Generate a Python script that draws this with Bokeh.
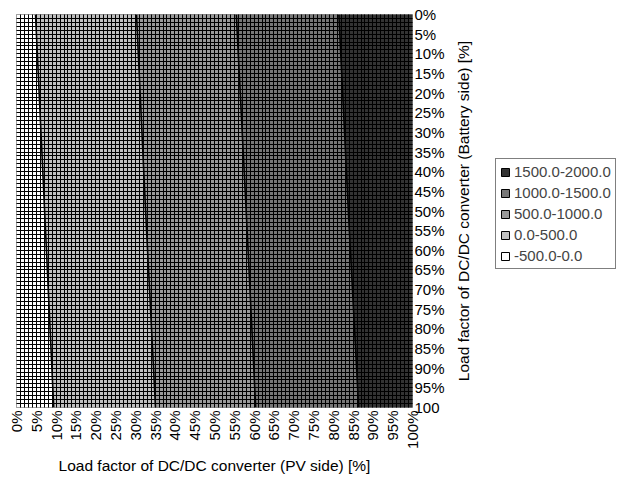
import math
from bokeh.plotting import figure
from bokeh.layouts import row
from bokeh.models import Range1d, FixedTicker, SingleIntervalTicker, Legend, LegendItem, Label
from bokeh.embed import file_html
from bokeh.resources import INLINE

# ---- data (percent units) ----
# Battery-side load factor positions at which the band boundaries were read
boundary_y = [0, 50, 100]
# PV-side load factor of each contour boundary at those positions
boundary_0 = [4.8, 7.1, 9.4]        # between -500..0 and 0..500
boundary_500 = [30.3, 32.6, 35.1]   # between 0..500 and 500..1000
boundary_1000 = [55.5, 58.0, 60.4]  # between 500..1000 and 1000..1500
boundary_1500 = [81.4, 83.8, 86.4]  # between 1000..1500 and 1500..2000

band_labels = ["-500.0-0.0", "0.0-500.0", "500.0-1000.0", "1000.0-1500.0", "1500.0-2000.0"]
band_colors = ["#ffffff", "#c0c0c0", "#999999", "#777777", "#333333"]

x_tick_values = [0, 5, 10, 15, 20, 25, 30, 35, 40, 45, 50, 55, 60, 65, 70, 75, 80, 85, 90, 95, 100]
x_tick_labels = ["0%", "5%", "10%", "15%", "20%", "25%", "30%", "35%", "40%", "45%", "50%",
                 "55%", "60%", "65%", "70%", "75%", "80%", "85%", "90%", "95%", "100%"]
y_tick_values = [0, 5, 10, 15, 20, 25, 30, 35, 40, 45, 50, 55, 60, 65, 70, 75, 80, 85, 90, 95, 100]
y_tick_labels = ["0%", "5%", "10%", "15%", "20%", "25%", "30%", "35%", "40%", "45%", "50%",
                 "55%", "60%", "65%", "70%", "75%", "80%", "85%", "90%", "95%", "100"]
grid_step = 1

x_title = "Load factor of DC/DC converter (PV side) [%]"
y_title = "Load factor of DC/DC converter (Battery side) [%]"

FONT = "Liberation Sans"
H = 477
W1 = 455
W2 = 617 - W1

p = figure(width=W1, height=H,
           x_range=Range1d(0, 100), y_range=Range1d(100, 0),
           y_axis_location="right",
           output_backend="svg", toolbar_location=None,
           min_border_left=16, min_border_top=14, min_border_right=43, min_border_bottom=70)

# ---- contour bands ----
x_min = [0, 0, 0]
x_max = [100, 100, 100]
edges = [x_min, boundary_0, boundary_500, boundary_1000, boundary_1500, x_max]
for i in range(5):
    left = edges[i]
    right = edges[i + 1]
    xs = list(left) + list(reversed(right))
    ys = list(boundary_y) + list(reversed(boundary_y))
    p.patch(xs, ys, fill_color=band_colors[i], line_color=None)

for b in edges[1:-1]:
    p.line(b, boundary_y, line_color="black", line_width=1.6)

# ---- grid ----
for g in (p.xgrid, p.ygrid):
    g.ticker = SingleIntervalTicker(interval=grid_step)
    g.grid_line_color = "black"
    g.grid_line_width = 1
    g.grid_line_alpha = 1
    g.level = "annotation"

p.outline_line_color = "#808080"
p.background_fill_color = "white"

# ---- axes ----
p.xaxis.ticker = FixedTicker(ticks=x_tick_values)
p.xaxis.major_label_overrides = {v: l for v, l in zip(x_tick_values, x_tick_labels)}
p.xaxis.major_label_orientation = math.pi / 2
p.yaxis.ticker = FixedTicker(ticks=y_tick_values)
p.yaxis.major_label_overrides = {v: l for v, l in zip(y_tick_values, y_tick_labels)}

for ax in (p.xaxis, p.yaxis):
    ax.axis_line_color = None
    ax.major_tick_line_color = None
    ax.minor_tick_line_color = None
    ax.major_tick_out = 0
    ax.major_tick_in = 0
    ax.minor_tick_out = 0
    ax.minor_tick_in = 0
    ax.major_label_text_font = FONT
    ax.major_label_text_font_size = "15px"
    ax.major_label_text_color = "black"
    ax.axis_label_text_font = FONT
    ax.axis_label_text_font_size = "15.5px"
    ax.axis_label_text_font_style = "normal"
    ax.axis_label_text_color = "black"

p.xaxis.major_label_standoff = 3
p.xaxis.axis_label = x_title
p.xaxis.axis_label_text_line_height = 0.6
p.xaxis.axis_label_standoff = 5
p.yaxis.major_label_standoff = 2

# ---- side panel: y title + legend ----
q = figure(width=W2, height=H, x_range=Range1d(0, 1), y_range=Range1d(0, 1),
           output_backend="svg", toolbar_location=None,
           min_border_left=0, min_border_right=0, min_border_top=0, min_border_bottom=0)
q.axis.visible = False
q.grid.visible = False
q.outline_line_color = None

q.add_layout(Label(x=8, y=196.5, x_units="screen", y_units="screen", text=y_title,
                   angle=math.pi / 2, text_align="center", text_baseline="middle",
                   text_font=FONT, text_font_size="15.5px", text_color="black"))

nan = float("nan")
items = []
for i in reversed(range(5)):
    r = q.quad(left=[nan], right=[nan], top=[nan], bottom=[nan], fill_color=band_colors[i],
               line_color="black", line_width=1)
    items.append(LegendItem(label=band_labels[i], renderers=[r]))
legend = Legend(items=items, location=(40, 138), orientation="vertical",
                glyph_width=10, glyph_height=10, label_height=17, spacing=4,
                padding=4, margin=0, label_standoff=4,
                label_text_font=FONT, label_text_font_size="15px",
                border_line_color="black", border_line_width=1,
                background_fill_color="white", background_fill_alpha=1)
q.add_layout(legend, "center")

layout = row(p, q, spacing=0)
open("out.html", "w").write(file_html(layout, INLINE))
